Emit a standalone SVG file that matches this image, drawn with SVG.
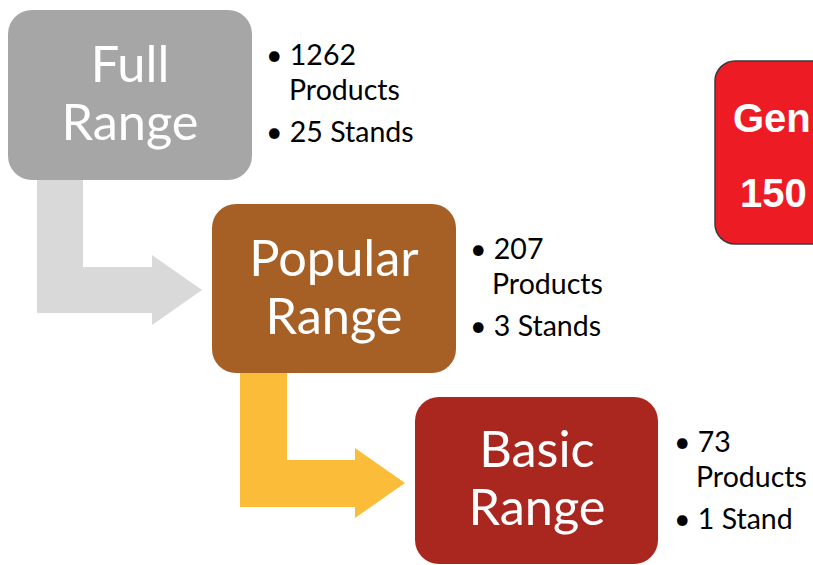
<svg xmlns="http://www.w3.org/2000/svg" width="813" height="565" viewBox="0 0 813 565">
<style>
.box-text{font-family:Lato,"Open Sans",sans-serif;font-size:50.5px;fill:#ffffff;text-anchor:middle}
.bullet{font-family:Lato,"Open Sans",sans-serif;font-size:28.5px;fill:#000000}
.red-text{font-family:"Liberation Sans",Arial,sans-serif;font-weight:bold;font-size:40px;fill:#ffffff}
</style>
<rect width="813" height="565" fill="#ffffff"/>
<g id="connectors">
<path d="M37,180 H83 V267 H152 V255 L202,290 L152,325 V313 H37 Z" fill="#d9d9d9"/>
<path d="M240,373 H287 V460 H355 V448 L405,483 L355,518 V507 H240 Z" fill="#fbbd39"/>
</g>
<g id="full-range">
<rect x="8" y="10" width="244" height="170" rx="24" fill="#a6a6a6"/>
<text class="box-text" x="130" y="82">Full</text>
<text class="box-text" x="130" y="140">Range</text>
</g>
<g id="full-range-bullets">
<text class="bullet" x="266" y="65">• 1262</text>
<text class="bullet" x="289" y="100">Products</text>
<text class="bullet" x="266" y="142">• 25 Stands</text>
</g>
<g id="popular-range">
<rect x="212" y="204" width="244" height="169" rx="24" fill="#a65f24"/>
<text class="box-text" x="334" y="276">Popular</text>
<text class="box-text" x="334" y="334">Range</text>
</g>
<g id="popular-range-bullets">
<text class="bullet" x="470" y="259">• 207</text>
<text class="bullet" x="492" y="294">Products</text>
<text class="bullet" x="470" y="336">• 3 Stands</text>
</g>
<g id="basic-range">
<rect x="415" y="397" width="243" height="167" rx="24" fill="#aa271f"/>
<text class="box-text" x="537" y="467">Basic</text>
<text class="box-text" x="537" y="525">Range</text>
</g>
<g id="basic-range-bullets">
<text class="bullet" x="674" y="452">• 73</text>
<text class="bullet" x="696" y="487">Products</text>
<text class="bullet" x="674" y="529">• 1 Stand</text>
</g>
<g id="general">
<rect x="715" y="61" width="140" height="183" rx="20" fill="#ed1c24" stroke="#3a3a3a" stroke-width="1.5"/>
<text class="red-text" x="733" y="132">Gen</text>
<text class="red-text" x="740" y="207">150</text>
</g>
</svg>
